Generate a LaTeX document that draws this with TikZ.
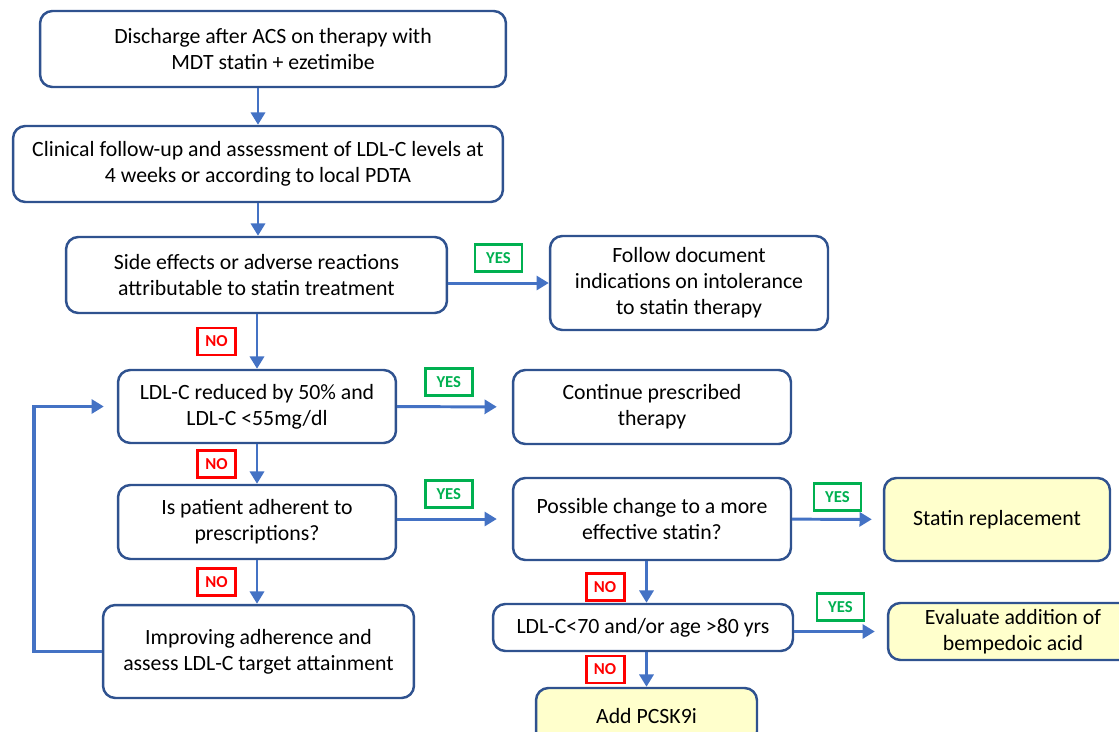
\documentclass[tikz,border=0pt]{standalone}
\usepackage{fontspec}
\setmainfont{Carlito}
\usetikzlibrary{arrows.meta, positioning, calc}

\definecolor{boxblue}{HTML}{2F528F}
\definecolor{arrblue}{HTML}{4472C4}
\definecolor{noteyellow}{HTML}{FFFFCC}
\definecolor{yesgreen}{HTML}{00B050}
\definecolor{nored}{HTML}{FF0000}

\begin{document}
\begin{tikzpicture}[x=0.02cm, y=-0.02cm,
    box/.style={draw=boxblue, line width=1.4pt, rounded corners=7pt, align=center,
        font=\fontsize{12.4}{14.8}\selectfont, inner sep=2pt},
    endbox/.style={box, fill=noteyellow},
    arr/.style={draw=arrblue, line width=1.7pt, -{Triangle[length=7pt, width=8pt]}},
    yes/.style={draw=yesgreen, text=yesgreen, line width=1.6pt, font=\fontsize{9.5}{10}\selectfont\bfseries,
        minimum width=0.94cm, minimum height=0.54cm, inner sep=1pt},
    no/.style={yes, draw=nored, text=nored, minimum width=0.76cm}]

    \useasboundingbox (0,0) rectangle (1119,731);
    \clip (0,0) rectangle (1119,731);

    % main column
    \node[box, minimum width=9.32cm, minimum height=1.52cm] (dis) at (273,49) {Discharge after ACS on therapy with\\MDT statin + ezetimibe};
    \node[box, minimum width=9.8cm, minimum height=1.52cm] (fup) at (258,164) {Clinical follow-up and assessment of LDL-C levels at\\4 weeks or according to local PDTA};
    \node[box, minimum width=7.62cm, minimum height=1.52cm] (side) at (256.5,275) {Side effects or adverse reactions\\attributable to statin treatment};
    \node[box, minimum width=5.56cm, minimum height=1.46cm] (ldl) at (257,406.5) {LDL-C reduced by 50\% and\\LDL-C <55mg/dl};
    \node[box, minimum width=5.56cm, minimum height=1.48cm] (adh) at (257,522) {Is patient adherent to\\prescriptions?};
    \node[box, minimum width=6.22cm, minimum height=1.86cm] (imp) at (258.5,651.5) {Improving adherence and\\assess LDL-C target attainment};

    % right side
    \node[box, minimum width=5.56cm, minimum height=1.88cm] (intol) at (689,283) {Follow document\\indications on intolerance\\to statin therapy};
    \node[box, minimum width=5.56cm, minimum height=1.48cm] (cont) at (652,407) {Continue prescribed\\therapy};
    \node[box, minimum width=5.56cm, minimum height=1.64cm] (poss) at (652,519) {Possible change to a more\\effective statin?};
    \node[box, minimum width=6.0cm, minimum height=0.94cm] (ldlage) at (643,627.5) {LDL-C<70 and/or age >80 yrs};
    \node[endbox, minimum width=4.52cm, minimum height=1.66cm] (repl) at (997,519.5) {Statin replacement};
    \node[endbox, minimum width=5.0cm, minimum height=1.14cm] (bemp) at (1013,631.5) {Evaluate addition of\\bempedoic acid};
    \node[endbox, minimum width=4.42cm, minimum height=1.12cm] (pcsk) at (646.5,716) {Add PCSK9i};

    % connectors
    \draw[arr] (dis.south -| fup) -- (fup.north);
    \draw[arr] (fup.south) -- (side.north -| fup);
    \draw[arr] (side.south -| ldl) -- node[no, left=0.4cm] {NO} (ldl.north);
    \draw[arr] (side.east |- intol) -- node[yes, above=0.2cm] {YES} (intol.west);
    \draw[arr, shorten >=0.3cm] (ldl) -- node[yes, above=0.2cm, pos=0.45] {YES} (cont);
    \draw[arr] (ldl) -- node[no, left=0.4cm] {NO} (adh);
    \draw[arr] (adh.south) -- node[no, left=0.4cm] {NO} (adh.south |- imp.north);
    \draw[arr, shorten >=0.3cm] (adh.east |- poss) -- node[yes, above=0.2cm, pos=0.45] {YES} (poss.west);
    \draw[arr, shorten >=0.22cm] (poss) -- node[yes, above=0.15cm] {YES} (repl);
    \draw[arr] (poss.south -| pcsk) -- node[no, left=0.42cm, yshift=-0.1cm] {NO} (ldlage.north -| pcsk);
    \draw[arr, shorten >=0.24cm] (ldlage.east |- bemp) -- node[yes, above=0.2cm] {YES} (bemp.west);
    \draw[arr] (ldlage.south -| pcsk) -- node[no, left=0.42cm] {NO} (pcsk.north);
    \draw[arr, line width=2.2pt, shorten >=0.26cm] (imp.west) -- ++(-68,0) |- (ldl.west);
\end{tikzpicture}
\end{document}
